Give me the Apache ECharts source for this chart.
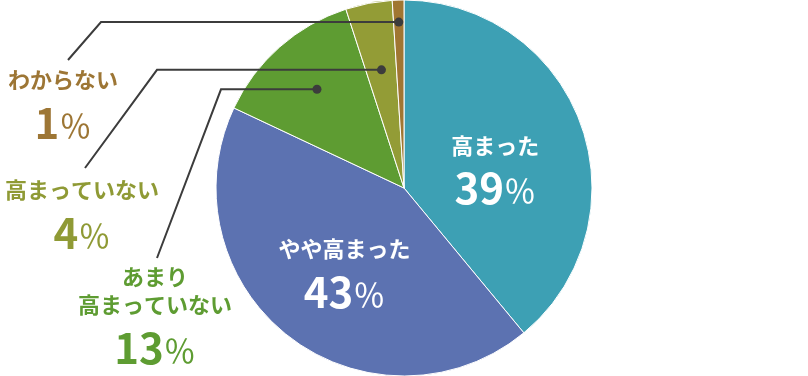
<!DOCTYPE html>
<html lang="ja">
<head>
  <meta charset="UTF-8">
  <title>高まった割合</title>
  <style>
    html, body { margin: 0; padding: 0; background: #fff; }
    #chart { width: 808px; height: 376px; }
  </style>
</head>
<body>
  <div id="chart"></div>
  <script src="https://cdn.jsdelivr.net/npm/echarts@6/dist/echarts.min.js"></script>
  <script>
    // data
    var categories = ['高まった', 'やや高まった', 'あまり\n高まっていない', '高まっていない', 'わからない']
    var values = [39, 43, 13, 4, 1]
    var colors = ['#3da0b4', '#5c72b1', '#5e9c32', '#939c36', '#a07632']
    var labelColors = ['#fff', '#fff', '#5e9c32', '#8f9a35', '#9d7635']

    var cx = 404, cy = 188, R = 188
    var font = '"Noto Sans CJK JP", "Noto Sans", sans-serif'

    // leader lines for the small slices: dot radius factor, elbow x, line end, label centre
    var outside = {
      2: { rf: 0.70, elbowX: 221, end: [157, 258], at: [155, 320] },
      3: { rf: 0.64, elbowX: 157, end: [85, 168], at: [82, 216] },
      4: { rf: 0.883, elbowX: 101, end: [68, 60], at: [63, 106] }
    }

    var total = values.reduce(function (a, b) { return a + b }, 0)
    var dots = {}
    var cum = 0
    for (var i = 0; i < values.length; i++) {
      var mid = 2 * Math.PI * (cum + values[i] / 2) / total
      cum += values[i]
      if (outside[i]) {
        var r = R * outside[i].rf
        dots[i] = [cx + r * Math.sin(mid), cy - r * Math.cos(mid)]
      }
    }

    var seriesData = categories.map(function (name, i) {
      var isOut = !!outside[i]
      var lbl = {
        position: isOut ? 'outside' : 'inside',
        offset: isOut ? [0, 0] : (i === 0 ? [0, 16] : [0, 10]),
        color: labelColors[i]
      }
      // two-line name sits tighter
      if (name.indexOf('\n') >= 0) lbl.formatter = '{m|{b}}\n{w|{c}}{p|％}'
      return {
        name: name,
        value: values[i],
        itemStyle: { color: colors[i] },
        label: lbl
      }
    })

    // leader lines and dots drawn on top of the pie
    var guides = []
    Object.keys(dots).forEach(function (k) {
      var d = dots[k], o = outside[k]
      guides.push({
        type: 'polyline',
        shape: { points: [[d[0], d[1]], [o.elbowX, d[1]], o.end] },
        style: { stroke: '#3c3c3c', lineWidth: 2, fill: null },
        z: 100
      })
      guides.push({
        type: 'circle',
        shape: { cx: d[0], cy: d[1], r: 4.5 },
        style: { fill: '#3c3c3c' },
        z: 101
      })
    })

    var myChart = echarts.init(document.getElementById('chart'))
    var option = {
      animation: false,
      series: [{
        type: 'pie',
        center: [cx, cy],
        radius: R,
        startAngle: 90,
        clockwise: true,
        avoidLabelOverlap: false,
        silent: true,
        itemStyle: { borderColor: '#fff', borderWidth: 1 },
        labelLine: { show: false },
        label: {
          show: true,
          fontFamily: font,
          formatter: '{n|{b}}\n{v|{c}}{p|％}',
          rich: {
            n: { fontSize: 22, fontWeight: 'bold', lineHeight: 34, fontFamily: font },
            m: { fontSize: 22, fontWeight: 'bold', lineHeight: 28, fontFamily: font },
            v: { fontSize: 42, fontWeight: 'bold', lineHeight: 52, fontFamily: font },
            w: { fontSize: 42, fontWeight: 'bold', lineHeight: 58, fontFamily: font },
            p: { fontSize: 32, fontWeight: 'normal', lineHeight: 52, fontFamily: font, padding: [6, 0, 0, 0] }
          }
        },
        labelLayout: function (params) {
          var o = outside[params.dataIndex]
          if (!o) return {}
          return { x: o.at[0], y: o.at[1], align: 'center', verticalAlign: 'middle' }
        },
        data: seriesData
      }],
      graphic: guides
    }
    myChart.setOption(option)
  </script>
</body>
</html>
